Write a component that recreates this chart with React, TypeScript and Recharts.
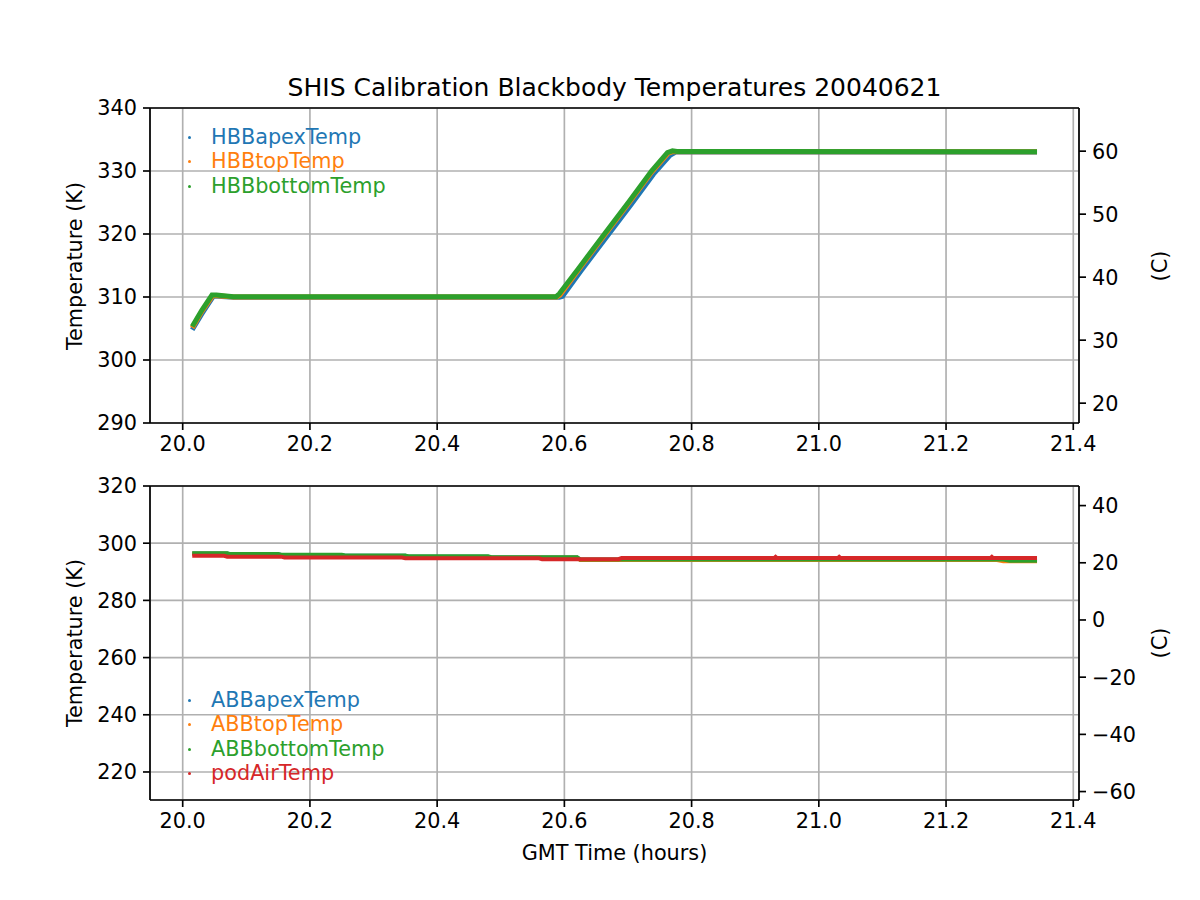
import React from 'react'
import {
  LineChart,
  Line,
  XAxis,
  YAxis,
  CartesianGrid,
  ReferenceLine,
  Legend,
} from 'recharts'

const FONT = '"DejaVu Sans", sans-serif'
const BLUE = '#1f77b4'
const ORANGE = '#ff7f0e'
const GREEN = '#2ca02c'
const RED = '#d62728'

const xTicks = [20.0, 20.2, 20.4, 20.6, 20.8, 21.0, 21.2, 21.4]
const topKTicks = [290, 300, 310, 320, 330, 340]
const topCTicks = [20, 30, 40, 50, 60]
const botKTicks = [220, 240, 260, 280, 300, 320]
const botCTicks = [-60, -40, -20, 0, 20, 40]

const topNames = ['HBBapexTemp', 'HBBtopTemp', 'HBBbottomTemp']
const botNames = ['ABBapexTemp', 'ABBtopTemp', 'ABBbottomTemp', 'podAirTemp']

// hot blackbody (top panel)
const hbbApexT = [20.015, 20.03, 20.048, 20.055, 20.08, 20.592, 20.597, 20.625, 20.666, 20.705, 20.74, 20.766, 20.775, 20.782, 21.343]
const hbbApexV = [304.8, 307.3, 310.1, 310.1, 309.95, 309.95, 310.1, 314.0, 319.5, 324.7, 329.5, 332.5, 333.0, 333.0, 333.0]
const hbbTopT = [20.015, 20.03, 20.047, 20.054, 20.08, 20.588, 20.593, 20.622, 20.663, 20.702, 20.737, 20.763, 20.771, 20.778, 21.343]
const hbbTopV = [305.1, 307.7, 310.2, 310.2, 310.0, 310.0, 310.3, 314.3, 319.8, 325.0, 329.8, 332.8, 333.1, 333.05, 333.05]
const hbbBottomT = [20.015, 20.03, 20.046, 20.053, 20.08, 20.587, 20.592, 20.622, 20.663, 20.702, 20.737, 20.762, 20.77, 20.777, 21.343]
const hbbBottomV = [305.3, 307.9, 310.3, 310.3, 310.05, 310.05, 310.5, 314.5, 320.0, 325.2, 330.0, 332.9, 333.2, 333.1, 333.05]

// ambient blackbody + pod air (bottom panel)
const abbApexT = [20.015, 20.07, 20.075, 20.15, 20.155, 20.25, 20.255, 20.35, 20.355, 20.48, 20.485, 20.62, 20.625, 21.29, 21.3, 21.343]
const abbApexV = [296.4, 296.4, 296.1, 296.1, 295.9, 295.9, 295.6, 295.6, 295.3, 295.3, 295.0, 295.0, 294.2, 294.2, 293.8, 293.8]
const abbTopT = [20.015, 20.07, 20.075, 20.15, 20.155, 20.25, 20.255, 20.35, 20.355, 20.48, 20.485, 20.62, 20.625, 21.28, 21.29, 21.343]
const abbTopV = [296.3, 296.3, 296.0, 296.0, 295.8, 295.8, 295.5, 295.5, 295.2, 295.2, 294.9, 294.9, 294.1, 294.1, 293.7, 293.7]
const abbBottomT = [20.015, 20.07, 20.075, 20.15, 20.155, 20.25, 20.255, 20.35, 20.355, 20.48, 20.485, 20.62, 20.625, 21.29, 21.3, 21.343]
const abbBottomV = [296.5, 296.5, 296.2, 296.2, 296.0, 296.0, 295.7, 295.7, 295.4, 295.4, 295.1, 295.1, 294.3, 294.3, 293.9, 293.9]
const podAirT = [20.015, 20.065, 20.07, 20.155, 20.16, 20.345, 20.35, 20.56, 20.565, 20.685, 20.69, 20.93, 20.932, 20.934, 21.03, 21.032, 21.034, 21.27, 21.272, 21.274, 21.343]
const podAirV = [295.6, 295.6, 295.3, 295.3, 295.0, 295.0, 294.7, 294.7, 294.4, 294.4, 294.8, 294.8, 295.2, 294.8, 294.8, 295.2, 294.8, 294.8, 295.2, 294.8, 294.8]

const pts = (t: number[], v: number[]) => t.map((x, i) => ({ t: x, v: v[i] }))

const axisStroke = { stroke: '#000', strokeWidth: 1.67 }
const tickStyle = { fill: '#000', fontSize: 20.8, fontFamily: FONT }
const fmtX = (v: number) => v.toFixed(1)
const fmtY = (v: number) => (v < 0 ? '\u2212' + Math.abs(v) : String(v))

const makeLegend = (order: string[]) => (props: any) => {
  const items = [...(props.payload || [])].sort(
    (a: any, b: any) => order.indexOf(a.value) - order.indexOf(b.value)
  )
  return (
    <div style={{ fontFamily: FONT, fontSize: 20.8, lineHeight: '24.4px' }}>
      {items.map((e: any) => (
        <div key={e.value} style={{ display: 'flex', alignItems: 'center', color: e.color, whiteSpace: 'nowrap' }}>
          <span
            style={{
              display: 'inline-block',
              width: 3,
              height: 3,
              borderRadius: '50%',
              background: e.color,
              marginRight: 20,
            }}
          />
          <span>{e.value}</span>
        </div>
      ))}
    </div>
  )
}

const label = (text: string, x: number, y: number, size: number, rotate = false) => (
  <div
    style={{
      position: 'absolute',
      left: x,
      top: y,
      transform: `translate(-50%, -50%)${rotate ? ' rotate(-90deg)' : ''}`,
      fontFamily: FONT,
      fontSize: size,
      color: '#000',
      whiteSpace: 'nowrap',
    }}
  >
    {text}
  </div>
)

export default function App() {
  return (
    <div style={{ position: 'absolute', left: 0, top: 0, width: 1200, height: 900, background: '#fff' }}>
      <div style={{ position: 'absolute', left: 0, top: 0 }}>
        <LineChart width={1200} height={470} margin={{ top: 108, right: 0, bottom: 0, left: 0 }}>
          <CartesianGrid yAxisId="left" stroke="#b0b0b0" strokeWidth={1.67} />
          <XAxis
            dataKey="t"
            type="number"
            domain={[19.9486, 21.409]}
            allowDataOverflow
            ticks={xTicks}
            tickFormatter={fmtX}
            height={47}
            tick={tickStyle}
            tickSize={7}
            tickMargin={6}
            axisLine={axisStroke}
            tickLine={axisStroke}
          />
          <YAxis
            yAxisId="left"
            type="number"
            domain={[290, 340]}
            allowDataOverflow
            ticks={topKTicks}
            width={150}
            tick={tickStyle}
            tickSize={7}
            tickMargin={6}
            axisLine={axisStroke}
            tickLine={axisStroke}
          />
          <YAxis
            yAxisId="right"
            orientation="right"
            type="number"
            domain={[16.85, 66.85]}
            allowDataOverflow
            ticks={topCTicks}
            width={121}
            tick={tickStyle}
            tickSize={7}
            tickMargin={6}
            axisLine={axisStroke}
            tickLine={axisStroke}
          />
          <Line yAxisId="left" data={pts(hbbApexT, hbbApexV)} dataKey="v" name="HBBapexTemp" stroke={BLUE} strokeWidth={5} dot={false} isAnimationActive={false} />
          <Line yAxisId="left" data={pts(hbbTopT, hbbTopV)} dataKey="v" name="HBBtopTemp" stroke={ORANGE} strokeWidth={5} dot={false} isAnimationActive={false} />
          <Line yAxisId="left" data={pts(hbbBottomT, hbbBottomV)} dataKey="v" name="HBBbottomTemp" stroke={GREEN} strokeWidth={5} dot={false} isAnimationActive={false} />
          <ReferenceLine yAxisId="left" y={340} stroke="#000" strokeWidth={1.67} />
          <Legend
            layout="vertical"
            align="center"
            verticalAlign="middle"
            content={makeLegend(topNames)}
            wrapperStyle={{ left: 188, top: 125, width: 'auto', height: 'auto' }}
          />
        </LineChart>
      </div>
      <div style={{ position: 'absolute', left: 0, top: 470 }}>
        <LineChart width={1200} height={380} margin={{ top: 16, right: 0, bottom: 0, left: 0 }}>
          <CartesianGrid yAxisId="left" stroke="#b0b0b0" strokeWidth={1.67} />
          <XAxis
            dataKey="t"
            type="number"
            domain={[19.9486, 21.409]}
            allowDataOverflow
            ticks={xTicks}
            tickFormatter={fmtX}
            height={50}
            tick={tickStyle}
            tickSize={7}
            tickMargin={6}
            axisLine={axisStroke}
            tickLine={axisStroke}
          />
          <YAxis
            yAxisId="left"
            type="number"
            domain={[210.2, 320]}
            allowDataOverflow
            ticks={botKTicks}
            width={150}
            tick={tickStyle}
            tickSize={7}
            tickMargin={6}
            axisLine={axisStroke}
            tickLine={axisStroke}
          />
          <YAxis
            yAxisId="right"
            orientation="right"
            type="number"
            domain={[-62.95, 46.85]}
            allowDataOverflow
            ticks={botCTicks}
            tickFormatter={fmtY}
            width={121}
            tick={tickStyle}
            tickSize={7}
            tickMargin={6}
            axisLine={axisStroke}
            tickLine={axisStroke}
          />
          <Line yAxisId="left" data={pts(abbApexT, abbApexV)} dataKey="v" name="ABBapexTemp" stroke={BLUE} strokeWidth={4} dot={false} isAnimationActive={false} />
          <Line yAxisId="left" data={pts(abbTopT, abbTopV)} dataKey="v" name="ABBtopTemp" stroke={ORANGE} strokeWidth={4} dot={false} isAnimationActive={false} />
          <Line yAxisId="left" data={pts(abbBottomT, abbBottomV)} dataKey="v" name="ABBbottomTemp" stroke={GREEN} strokeWidth={4} dot={false} isAnimationActive={false} />
          <Line yAxisId="left" data={pts(podAirT, podAirV)} dataKey="v" name="podAirTemp" stroke={RED} strokeWidth={4} dot={false} isAnimationActive={false} />
          <ReferenceLine yAxisId="left" y={320} stroke="#000" strokeWidth={1.67} />
          <Legend
            layout="vertical"
            align="center"
            verticalAlign="middle"
            content={makeLegend(botNames)}
            wrapperStyle={{ left: 188, top: 218, width: 'auto', height: 'auto' }}
          />
        </LineChart>
      </div>
      {label('SHIS Calibration Blackbody Temperatures 20040621', 614.5, 87, 25)}
      {label('Temperature (K)', 75, 265.5, 20.8, true)}
      {label('(C)', 1160, 265.5, 20.8, true)}
      {label('Temperature (K)', 75, 643, 20.8, true)}
      {label('(C)', 1160, 643, 20.8, true)}
      {label('GMT Time (hours)', 614.5, 853, 20.8)}
    </div>
  )
}
